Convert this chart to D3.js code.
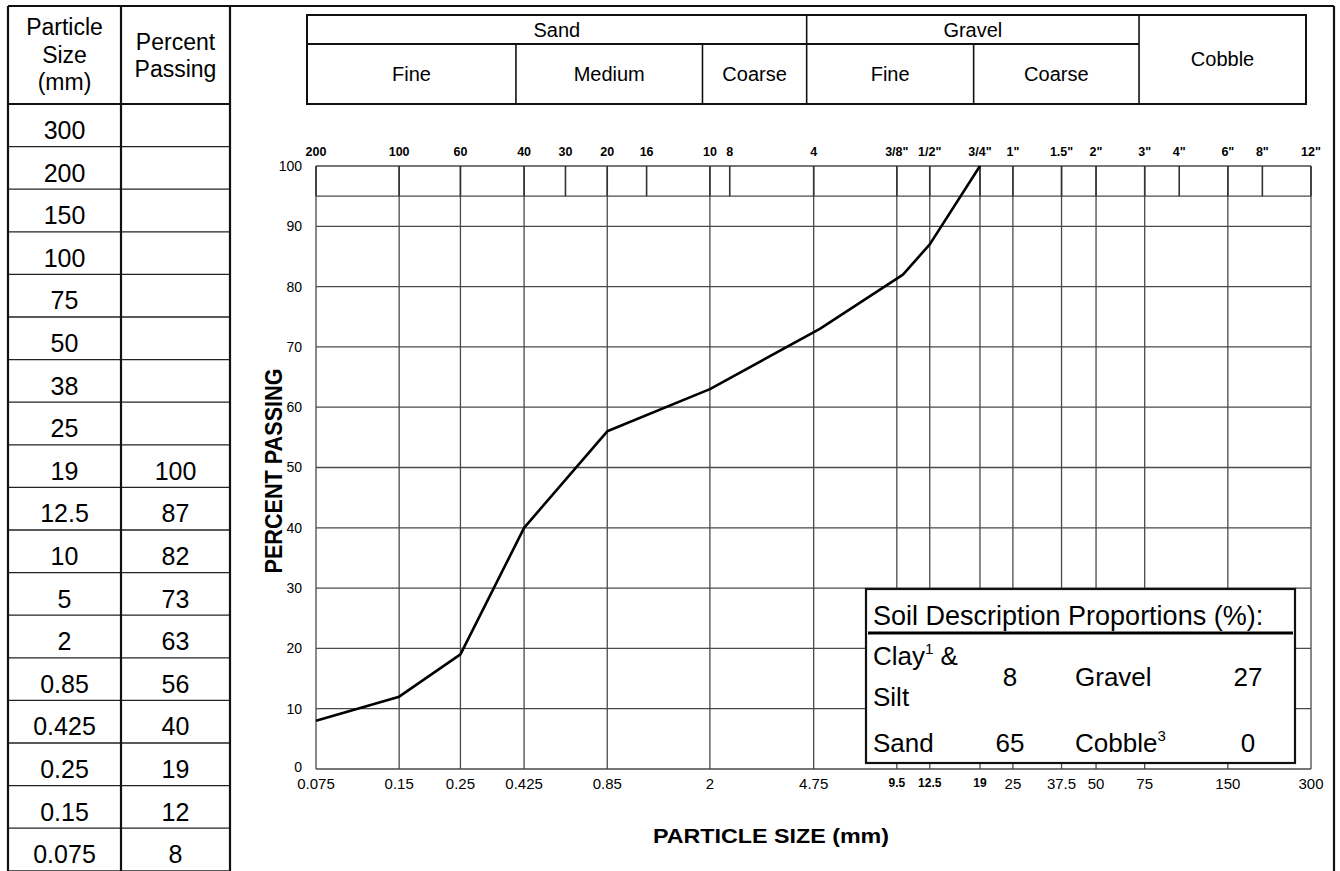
<!DOCTYPE html>
<html><head><meta charset="utf-8">
<script src="https://cdn.jsdelivr.net/npm/d3@7"></script>
<style>
body{margin:0;background:#fff}
svg text{font-family:"Liberation Sans",Arial,Helvetica,sans-serif;fill:#000}
</style>
</head><body>
<svg id="c" width="1340" height="871"></svg>
<script>
// ---------------- DATA ----------------
const particleSizes = ["300","200","150","100","75","50","38","25","19","12.5","10","5","2","0.85","0.425","0.25","0.15","0.075"];
const percentPassing = [null,null,null,null,null,null,null,null,100,87,82,73,63,56,40,19,12,8];

const gridSizes  = [0.075,0.15,0.25,0.425,0.85,2,4.75,9.5,12.5,19,25,37.5,50,75,150,300];
const gridLabels = ["0.075","0.15","0.25","0.425","0.85","2","4.75","9.5","12.5","19","25","37.5","50","75","150","300"];
const smallLabels = ["9.5","12.5","19"];

const sieveSizes  = [0.075,0.15,0.25,0.425,0.6,0.85,1.18,2,2.36,4.75,9.5,12.5,19,25,37.5,50,75,100,150,200,300];
const sieveLabels = ["200","100","60","40","30","20","16","10","8","4","3/8\"","1/2\"","3/4\"","1\"","1.5\"","2\"","3\"","4\"","6\"","8\"","12\""];

const yTicks = [0,10,20,30,40,50,60,70,80,90,100];
const yExtraLines = [95];

const groupNames  = ["Sand","Gravel","Cobble"];
const groupBounds = [[0.075,4.75],[4.75,75],[75,300]];
const subNames  = ["Fine","Medium","Coarse","Fine","Coarse"];
const subBounds = [[0.075,0.425],[0.425,2],[2,4.75],[4.75,19],[19,75]];

const propNames  = ["Clay & Silt","Sand","Gravel","Cobble"];
const propValues = [8,65,27,0];

// ---------------- LAYOUT ----------------
const svg = d3.select("#c");
const H = 871;
const plot = {left:316, right:1311, top:166, bottom:769};
const x = d3.scaleLog().domain([0.075,300]).range([plot.left, plot.right]);
const y = d3.scaleLinear().domain([0,100]).range([plot.bottom, plot.top]);
const hx = d3.scaleLog().domain([0.075,300]).range([307,1306]);

const gridColor = "#4a4a4a";

// ---------- left table ----------
const tbl = {x0:8, x1:121, x2:230, right:1334, top:6, head:104, rowH:42.6};
const c1 = (tbl.x0+tbl.x1)/2, c2 = (tbl.x1+tbl.x2)/2;

const ft = svg.append("g");
particleSizes.forEach((s,i)=>{
  const top = tbl.head + i*tbl.rowH;
  const bot = top + tbl.rowH;
  if (bot < H) ft.append("line").attr("x1",tbl.x0).attr("x2",tbl.x2).attr("y1",bot).attr("y2",bot)
    .attr("stroke","#222").attr("stroke-width",1.3);
  ft.append("text").attr("x",c1).attr("y",top+35).attr("text-anchor","middle")
    .attr("font-size",25).text(s);
  if (percentPassing[i] !== null)
    ft.append("text").attr("x",c2).attr("y",top+35).attr("text-anchor","middle")
      .attr("font-size",25).text(percentPassing[i]);
});
[["Particle",35],["Size",63],["(mm)",90]].forEach(([t,b])=>
  ft.append("text").attr("x",c1).attr("y",b).attr("text-anchor","middle").attr("font-size",23).text(t));
[["Percent",50],["Passing",77]].forEach(([t,b])=>
  ft.append("text").attr("x",c2).attr("y",b).attr("text-anchor","middle").attr("font-size",23).text(t));

// frame lines
const frame = svg.append("g").attr("stroke","#111").attr("stroke-width",2.2);
frame.append("line").attr("x1",tbl.x0).attr("x2",tbl.right).attr("y1",tbl.top).attr("y2",tbl.top);
[tbl.x0,tbl.x1,tbl.x2,tbl.right].forEach(xx=>
  frame.append("line").attr("x1",xx).attr("x2",xx).attr("y1",tbl.top).attr("y2",H));
frame.append("line").attr("x1",tbl.x0).attr("x2",tbl.x2).attr("y1",tbl.head).attr("y2",tbl.head);

// ---------- soil classification header ----------
const hd = {top:15, mid:44, bottom:104};
const hg = svg.append("g");
hg.append("rect").attr("x",hx(0.075)).attr("y",hd.top).attr("width",hx(300)-hx(0.075))
  .attr("height",hd.bottom-hd.top).attr("fill","none").attr("stroke","#111").attr("stroke-width",2);
hg.append("line").attr("x1",hx(0.075)).attr("x2",hx(75)).attr("y1",hd.mid).attr("y2",hd.mid)
  .attr("stroke","#111").attr("stroke-width",2);
groupBounds.forEach((b,i)=>{
  if (i>0) hg.append("line").attr("x1",hx(b[0])).attr("x2",hx(b[0])).attr("y1",hd.top).attr("y2",hd.bottom)
    .attr("stroke","#111").attr("stroke-width",1.6);
  const cx = (hx(b[0])+hx(b[1]))/2;
  const by = groupNames[i]==="Cobble" ? 66 : 37;
  hg.append("text").attr("x",cx).attr("y",by).attr("text-anchor","middle").attr("font-size",20).text(groupNames[i]);
});
subBounds.forEach((b,i)=>{
  if (i>0 && b[0]!==4.75) hg.append("line").attr("x1",hx(b[0])).attr("x2",hx(b[0])).attr("y1",hd.mid).attr("y2",hd.bottom)
    .attr("stroke","#111").attr("stroke-width",1.6);
  const cx = (hx(b[0])+hx(b[1]))/2;
  hg.append("text").attr("x",cx).attr("y",81).attr("text-anchor","middle").attr("font-size",20).text(subNames[i]);
});

// ---------- plot grid ----------
const g = svg.append("g");
yTicks.concat(yExtraLines).forEach(v=>{
  g.append("line").attr("x1",plot.left).attr("x2",plot.right).attr("y1",y(v)).attr("y2",y(v))
    .attr("stroke",gridColor).attr("stroke-width",1.3);
});
gridSizes.forEach(s=>{
  g.append("line").attr("x1",x(s)).attr("x2",x(s)).attr("y1",y(0)).attr("y2",y(100))
    .attr("stroke",gridColor).attr("stroke-width",1.3);
});
sieveSizes.forEach((s,i)=>{
  g.append("line").attr("x1",x(s)).attr("x2",x(s)).attr("y1",y(95)).attr("y2",y(100))
    .attr("stroke","#333").attr("stroke-width",1.6);
  g.append("text").attr("x",x(s)).attr("y",156).attr("text-anchor","middle")
    .attr("font-size",12.5).attr("font-weight","bold").text(sieveLabels[i]);
});
yTicks.forEach(v=>{
  g.append("text").attr("x",302).attr("y",y(v)-(v===0?2:0)).attr("dy","0.35em").attr("text-anchor","end")
    .attr("font-size",14).text(v);
});
gridSizes.forEach((s,i)=>{
  const small = smallLabels.includes(gridLabels[i]);
  g.append("text").attr("x",x(s)).attr("y",small?787:789).attr("text-anchor","middle")
    .attr("font-size",small?12:15).attr("font-weight",small?"bold":"normal").text(gridLabels[i]);
});

// axis titles
svg.append("text").attr("x",771).attr("y",843).attr("text-anchor","middle")
  .attr("font-size",21).attr("font-weight","bold").attr("textLength",236).attr("lengthAdjust","spacingAndGlyphs")
  .text("PARTICLE SIZE (mm)");
svg.append("text").attr("transform","translate(282,471) rotate(-90)").attr("text-anchor","middle")
  .attr("font-size",24).attr("font-weight","bold").attr("textLength",205).attr("lengthAdjust","spacingAndGlyphs")
  .text("PERCENT PASSING");

// ---------- gradation curve ----------
const pts = particleSizes.map((s,i)=>({size:+s, pct:percentPassing[i]})).filter(d=>d.pct!==null);
svg.append("path").datum(pts)
  .attr("d", d3.line().x(d=>x(d.size)).y(d=>y(d.pct)))
  .attr("fill","none").attr("stroke","#000").attr("stroke-width",2.6).attr("stroke-linejoin","round");

// ---------- proportions box ----------
const lb = {x:866, y:589, w:429, h:174};
const L = svg.append("g");
L.append("rect").attr("x",lb.x).attr("y",lb.y).attr("width",lb.w).attr("height",lb.h)
  .attr("fill","#fff").attr("stroke","#111").attr("stroke-width",2.2);
L.append("line").attr("x1",lb.x+2).attr("x2",lb.x+lb.w-2).attr("y1",633).attr("y2",633)
  .attr("stroke","#000").attr("stroke-width",3.2);
L.append("text").attr("x",873).attr("y",625).attr("font-size",27).text("Soil Description Proportions (%):");

const fs = 26;
// Clay & Silt (two lines with superscript 1)
const clay = L.append("text").attr("x",873).attr("y",665).attr("font-size",fs);
clay.append("tspan").text("Clay");
clay.append("tspan").attr("font-size",15).attr("dy",-11).text("1");
clay.append("tspan").attr("dy",11).text(" &");
L.append("text").attr("x",873).attr("y",706).attr("font-size",fs).text("Silt");
L.append("text").attr("x",1010).attr("y",686).attr("text-anchor","middle").attr("font-size",fs).text(propValues[0]);
// Sand
L.append("text").attr("x",873).attr("y",752).attr("font-size",fs).text(propNames[1]);
L.append("text").attr("x",1010).attr("y",752).attr("text-anchor","middle").attr("font-size",fs).text(propValues[1]);
// Gravel
L.append("text").attr("x",1075).attr("y",686).attr("font-size",fs).text(propNames[2]);
L.append("text").attr("x",1248).attr("y",686).attr("text-anchor","middle").attr("font-size",fs).text(propValues[2]);
// Cobble with superscript 3
const cob = L.append("text").attr("x",1075).attr("y",752).attr("font-size",fs);
cob.append("tspan").text(propNames[3]);
cob.append("tspan").attr("font-size",15).attr("dy",-11).text("3");
L.append("text").attr("x",1248).attr("y",752).attr("text-anchor","middle").attr("font-size",fs).text(propValues[3]);
</script>
</body></html>
